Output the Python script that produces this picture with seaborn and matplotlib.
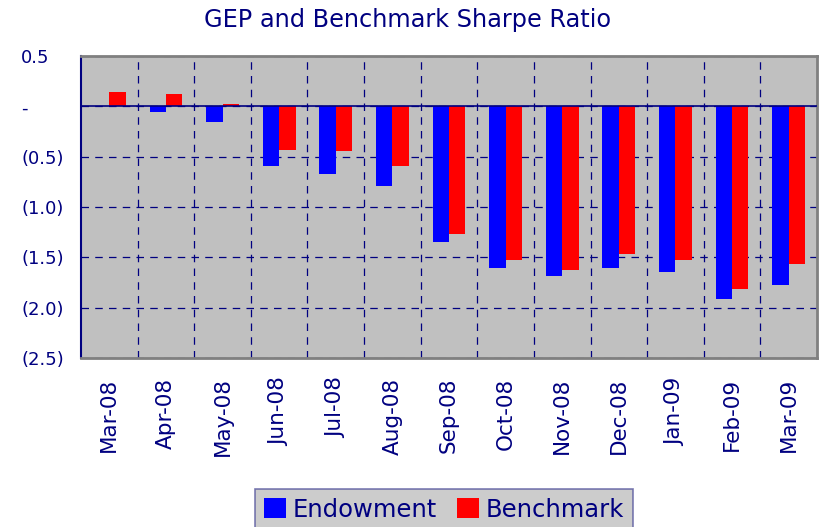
import numpy as np
import pandas as pd
import matplotlib
matplotlib.use('Agg')
import matplotlib.pyplot as plt
from matplotlib.ticker import FuncFormatter, FixedLocator
import seaborn as sns

# Données
months = ['Mar-08', 'Apr-08', 'May-08', 'Jun-08', 'Jul-08', 'Aug-08', 'Sep-08',
          'Oct-08', 'Nov-08', 'Dec-08', 'Jan-09', 'Feb-09', 'Mar-09']
endowment = [0.0, -0.06, -0.16, -0.59, -0.67, -0.79, -1.35,
             -1.61, -1.69, -1.61, -1.65, -1.91, -1.77]
benchmark = [0.14, 0.12, 0.02, -0.43, -0.44, -0.59, -1.27,
             -1.53, -1.63, -1.47, -1.53, -1.81, -1.57]

df = pd.DataFrame({
    'Month': months * 2,
    'Sharpe': endowment + benchmark,
    'Series': ['Endowment'] * len(months) + ['Benchmark'] * len(months),
})

navy = '#000080'
grey_bg = '#C0C0C0'

sns.set_style('white')
plt.rcParams['font.family'] = ['DejaVu Sans']

fig = plt.figure(figsize=(8.23, 5.27), dpi=100)
ax = fig.add_axes([81 / 823, 1 - 358 / 527, (817 - 81) / 823, (358 - 56) / 527])
ax.set_facecolor(grey_bg)

sns.barplot(data=df, x='Month', y='Sharpe', hue='Series', order=months,
            hue_order=['Endowment', 'Benchmark'],
            palette={'Endowment': '#0000FF', 'Benchmark': '#FF0000'},
            width=0.58, saturation=1, linewidth=0, ax=ax, zorder=3)

ax.set_xlim(-0.5, len(months) - 0.5)
ax.set_ylim(-2.5, 0.5)

# Axe Y : format comptable
def fmt(v, pos):
    if abs(v) < 1e-9:
        return '-'
    if v < 0:
        return f'({abs(v):.1f})'
    return f'{v:.1f}'

ax.yaxis.set_major_locator(FixedLocator(np.arange(-2.5, 0.51, 0.5)))
ax.yaxis.set_major_formatter(FuncFormatter(fmt))
ax.tick_params(axis='y', length=6, width=1.2, color=navy, labelcolor=navy,
               labelsize=13, pad=37)
for lbl in ax.get_yticklabels():
    lbl.set_horizontalalignment('left')

ax.tick_params(axis='x', length=0, labelcolor=navy, labelsize=15.5, pad=14,
               labelrotation=90)
ax.set_xlabel('')
ax.set_ylabel('')

# Grilles en tirets
ax.set_xticks(np.arange(0.5, len(months) - 1, 1), minor=True)
ax.grid(which='minor', axis='x', color=navy, linestyle=(0, (6, 5)), linewidth=0.9, zorder=1)
ax.grid(which='major', axis='y', color=navy, linestyle=(0, (6, 5)), linewidth=0.9, zorder=1)
ax.tick_params(axis='x', which='minor', length=0)
ax.axhline(0, color=navy, linewidth=1.2, zorder=4)

for side in ['top', 'right', 'bottom']:
    ax.spines[side].set_color('#808080')
    ax.spines[side].set_linewidth(2)
ax.spines['left'].set_color(navy)
ax.spines['left'].set_linewidth(1.5)

fig.text(408 / 823, 1 - 20 / 527, 'GEP and Benchmark Sharpe Ratio', ha='center',
         va='center', fontsize=17.3, color=navy)

ax.get_legend().remove()
handles, labels = ax.get_legend_handles_labels()
leg = fig.legend(handles, labels, loc='upper center', ncol=2,
                 bbox_to_anchor=(444 / 823, 1 - 489 / 527), fontsize=17.5,
                 frameon=True, fancybox=False, handlelength=0.9, handleheight=0.9,
                 handletextpad=0.3, columnspacing=0.8, borderpad=0.35,
                 borderaxespad=0)
leg.get_frame().set_facecolor(grey_bg)
leg.get_frame().set_edgecolor('#5a5aa0')
leg.get_frame().set_linewidth(1.2)
for t in leg.get_texts():
    t.set_color(navy)

fig.savefig('out.png', dpi=100)
